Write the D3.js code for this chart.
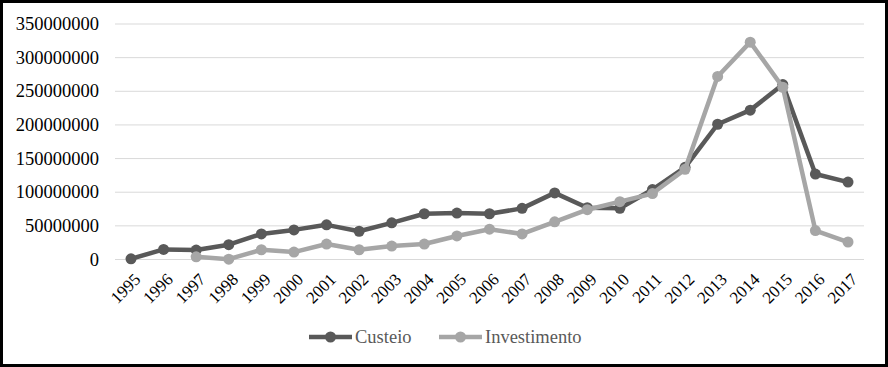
<!DOCTYPE html>
<html>
<head>
<meta charset="utf-8">
<script src="https://cdn.jsdelivr.net/npm/d3@7"></script>
<style>
  body { margin: 0; background: #fff; }
  svg { display: block; }
</style>
</head>
<body>
<div id="chart"></div>
<script>
// anos e valores
var anos = [1995, 1996, 1997, 1998, 1999, 2000, 2001, 2002, 2003, 2004, 2005, 2006,
            2007, 2008, 2009, 2010, 2011, 2012, 2013, 2014, 2015, 2016, 2017];
var custeio = [1000000, 15000000, 14000000, 22000000, 38000000, 44000000, 51500000, 42000000,
               54500000, 68000000, 69000000, 68000000, 76000000, 99000000, 77000000, 76000000,
               104000000, 137000000, 201000000, 222000000, 260000000, 127000000, 115000000];
var investimento = [null, null, 4000000, 500000, 14500000, 11000000, 23000000, 14500000,
                    20000000, 23000000, 35000000, 45000000, 38000000, 56000000, 74000000, 86000000,
                    98000000, 134000000, 272000000, 323000000, 256000000, 43000000, 26000000];
var yTicks = [0, 50000000, 100000000, 150000000, 200000000, 250000000, 300000000, 350000000];

var width = 888, height = 367;
var fonte = 'Liberation Serif';

var svg = d3.select('#chart').append('svg')
    .attr('width', width)
    .attr('height', height)
    .attr('font-family', fonte);

svg.append('rect')
    .attr('x', 1.5).attr('y', 1.5)
    .attr('width', width - 3).attr('height', height - 3)
    .attr('fill', '#fff')
    .attr('stroke', '#000')
    .attr('stroke-width', 3);

var x = d3.scalePoint()
    .domain(anos)
    .range([131, 848]);

var y = d3.scaleLinear()
    .domain([0, 350000000])
    .range([259.5, 24]);

// linhas de grade
svg.append('g')
    .selectAll('line')
    .data(yTicks)
    .enter()
    .append('line')
    .attr('x1', 115).attr('x2', 864)
    .attr('y1', d => y(d)).attr('y2', d => y(d))
    .attr('stroke', '#d9d9d9')
    .attr('stroke-width', 1);

// eixo y (rótulos a partir da escala)
svg.append('g')
    .selectAll('text')
    .data(yTicks)
    .enter()
    .append('text')
    .attr('x', 99)
    .attr('y', d => y(d))
    .attr('dy', '0.33em')
    .attr('text-anchor', 'end')
    .attr('font-family', fonte)
    .attr('font-size', 18.5)
    .attr('fill', '#000')
    .text(d => d3.format('d')(d));

// eixo x com rótulos inclinados
var gx = svg.append('g');
gx.selectAll('text')
    .data(anos)
    .enter()
    .append('text')
    .attr('transform', d => 'translate(' + (x(d) + 2) + ',272) rotate(-45)')
    .attr('text-anchor', 'end')
    .attr('dy', '0.7em')
    .attr('font-family', fonte)
    .attr('font-size', 17)
    .attr('fill', '#000')
    .text(d => d);

var series = [
    { nome: 'Custeio', valores: custeio, cor: '#595959' },
    { nome: 'Investimento', valores: investimento, cor: '#a6a6a6' }
];

var line = d3.line()
    .defined(d => d.v != null)
    .x(d => x(d.ano))
    .y(d => y(d.v));

series.forEach(function (s) {
    var pts = anos.map((a, i) => ({ ano: a, v: s.valores[i] }));
    svg.append('path')
        .datum(pts)
        .attr('d', line)
        .attr('fill', 'none')
        .attr('stroke', s.cor)
        .attr('stroke-width', 4.5)
        .attr('stroke-linejoin', 'round');
    svg.append('g')
        .selectAll('circle')
        .data(pts.filter(d => d.v != null))
        .enter()
        .append('circle')
        .attr('cx', d => x(d.ano))
        .attr('cy', d => y(d.v))
        .attr('r', 5.5)
        .attr('fill', s.cor);
});

// legenda
var legX = [309, 439];
var leg = svg.append('g');
series.forEach(function (s, i) {
    var g = leg.append('g').attr('transform', 'translate(' + legX[i] + ',337)');
    g.append('line')
        .attr('x1', 0).attr('x2', 43)
        .attr('stroke', s.cor).attr('stroke-width', 4.5);
    g.append('circle').attr('cx', 21.5).attr('r', 5.5).attr('fill', s.cor);
    g.append('text')
        .attr('x', 46).attr('dy', '0.33em')
        .attr('font-family', fonte)
        .attr('font-size', 18.5)
        .attr('fill', '#595959')
        .text(s.nome);
});
</script>
</body>
</html>
